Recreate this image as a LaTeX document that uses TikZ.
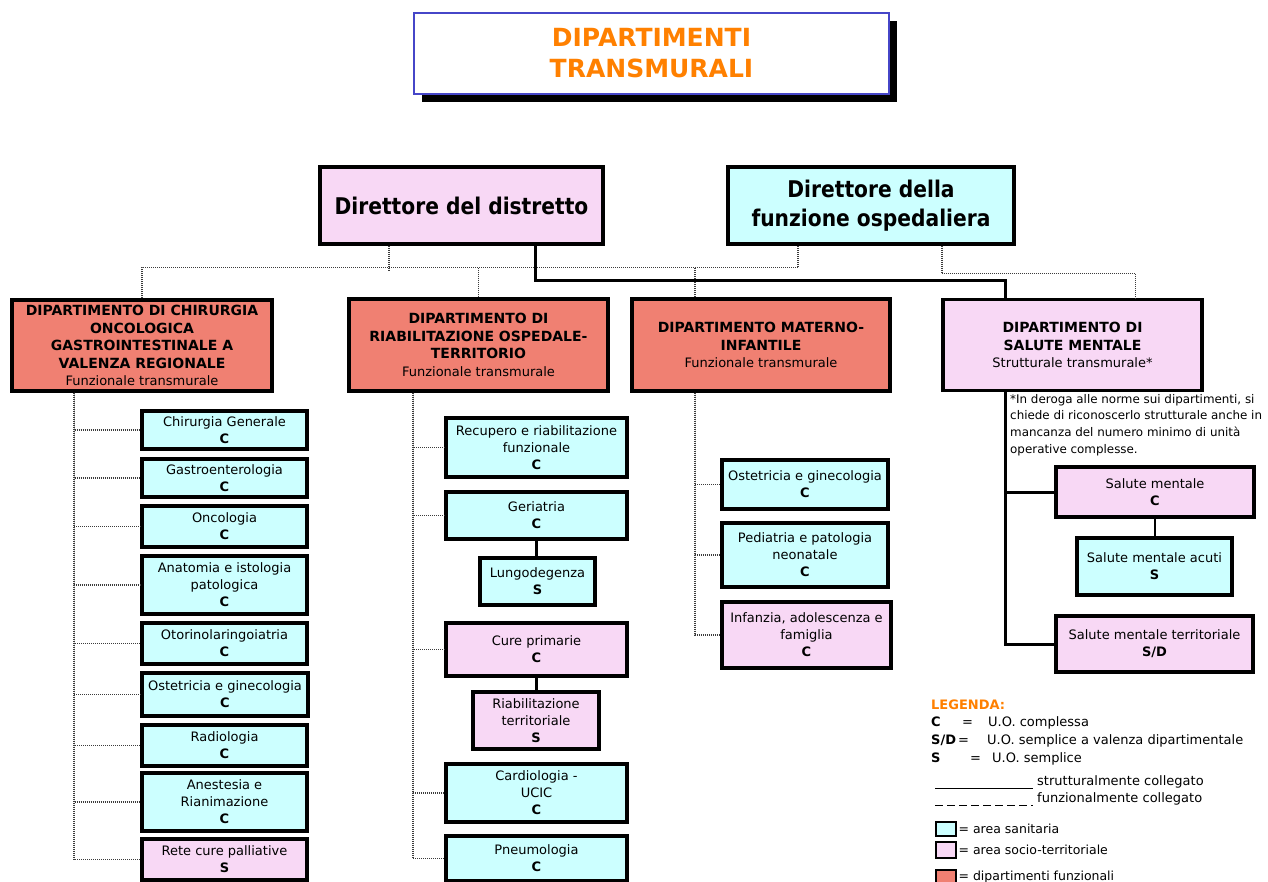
\documentclass[tikz,border=0pt]{standalone}
\usepackage{fontspec}
\setmainfont{DejaVu Sans}
\newfontfamily\dirfont[FakeStretch=0.88]{DejaVu Sans}
\usetikzlibrary{calc}
\definecolor{cyanf}{RGB}{204,255,255}
\definecolor{pinkf}{RGB}{248,216,245}
\definecolor{salm}{RGB}{240,128,114}
\definecolor{tblue}{RGB}{70,70,200}
\definecolor{orng}{RGB}{255,128,0}
\definecolor{dotc}{RGB}{60,60,60}
\newcommand\bt[1]{{\fontsize{14}{17.5}\selectfont\bfseries #1}}
\begin{document}
\begin{tikzpicture}[x=1pt,y=-1pt,
  ubox/.style={draw=black, line width=3.2pt, inner sep=1pt, align=center, font=\fontsize{13}{17}\selectfont},
  san/.style={ubox, fill=cyanf},
  soc/.style={ubox, fill=pinkf},
  dept/.style={draw=black, line width=3.2pt, fill=salm, inner sep=1pt, align=center, font=\fontsize{13}{17.5}\selectfont},
  deptsoc/.style={dept, fill=pinkf},
  dirbox/.style={draw=black, line width=3.2pt, inner sep=2pt, align=center, font=\dirfont\bfseries\fontsize{23}{29}\selectfont},
  dotln/.style={draw=dotc, line width=1.5pt, dash pattern=on 1pt off 1pt},
  strong/.style={draw=black, line width=3pt},
  link/.style={draw=black, line width=2.4pt},
  legtxt/.style={anchor=west, inner sep=0pt, font=\fontsize{13}{17}\selectfont},
  swatch/.style={draw=black, line width=2.8pt, minimum width=20pt, minimum height=14pt, inner sep=0pt}
]
\useasboundingbox (0,0) rectangle (1268,882);
\fill[white] (0,0) rectangle (1268,882);

% title
\fill[black] (422,21) rectangle (897,102);
\node[draw=tblue, line width=2.8pt, fill=white, minimum width=475pt, minimum height=81pt, align=center, text=orng, font=\fontsize{25}{31}\selectfont\bfseries] (title) at (651.5,53.5) {DIPARTIMENTI\\TRANSMURALI};

% directors
\node[dirbox, fill=pinkf, minimum width=283pt, minimum height=77pt] (dd) at (461.5,205.5) {Direttore del distretto};
\node[dirbox, fill=cyanf, minimum width=286pt, minimum height=77pt] (df) at (871,205.5) {Direttore della\\funzione ospedaliera};

% departments
\node[dept, minimum width=260pt, minimum height=91pt] (dchir) at (142,345.5) {\bt{DIPARTIMENTO DI CHIRURGIA}\\\bt{ONCOLOGICA}\\\bt{GASTROINTESTINALE A}\\\bt{VALENZA REGIONALE}\\Funzionale transmurale};
\node[dept, minimum width=259pt, minimum height=92pt] (driab) at (478.5,345) {\bt{DIPARTIMENTO DI}\\\bt{RIABILITAZIONE OSPEDALE-}\\\bt{TERRITORIO}\\Funzionale transmurale};
\node[dept, minimum width=258pt, minimum height=92pt] (dmat) at (761,345) {\bt{DIPARTIMENTO MATERNO-}\\\bt{INFANTILE}\\Funzionale transmurale};
\node[deptsoc, minimum width=259pt, minimum height=91pt] (dsm) at (1072.5,345) {\bt{DIPARTIMENTO DI}\\\bt{SALUTE MENTALE}\\Strutturale transmurale*};

% top connectors
\draw[dotln] (dchir.north) -- ++(0,-31) -| ($(df.south west)!0.248!(df.south east)$);
\draw[dotln] ($(dd.south west)!0.247!(dd.south east)$) -- ++(0,25);
\draw[dotln] (driab.north) -- ++(0,-30);
\draw[dotln] ($(dmat.north west)!0.248!(dmat.north east)$) -- ++(0,-30);
\draw[dotln] ($(df.south west)!0.745!(df.south east)$) -- ++(0,28) -| ($(dsm.north west)!0.741!(dsm.north east)$);
\draw[strong] ($(dd.south west)!0.76!(dd.south east)$) -- ++(0,35) -| ($(dsm.north west)!0.243!(dsm.north east)$);

% chirurgia column
\node[san, minimum width=165pt, minimum height=38pt] (cg) at (224.5,430) {Chirurgia Generale\\\textbf{C}};
\node[san, minimum width=165pt, minimum height=38pt] (gas) at (224.5,478) {Gastroenterologia\\\textbf{C}};
\node[san, minimum width=165pt, minimum height=41pt] (onc) at (224.5,526.5) {Oncologia\\\textbf{C}};
\node[san, minimum width=165pt, minimum height=58pt] (ana) at (224.5,585) {Anatomia e istologia\\patologica\\\textbf{C}};
\node[san, minimum width=165pt, minimum height=41pt] (oto) at (224.5,643.5) {Otorinolaringoiatria\\\textbf{C}};
\node[san, minimum width=166pt, minimum height=43pt] (ost) at (225,694.5) {Ostetricia e ginecologia\\\textbf{C}};
\node[san, minimum width=165pt, minimum height=41pt] (rad) at (224.5,745.5) {Radiologia\\\textbf{C}};
\node[san, minimum width=165pt, minimum height=58pt] (ane) at (224.5,802) {Anestesia e\\Rianimazione\\\textbf{C}};
\node[soc, minimum width=165pt, minimum height=41pt] (rcp) at (224.5,859.5) {Rete cure palliative\\\textbf{S}};
\coordinate (cbus) at ($(dchir.south west)!0.242!(dchir.south east)$);
\foreach \n in {cg,gas,onc,ana,oto,ost,rad,ane,rcp} \draw[dotln] (cbus) |- (\n.west);

% riabilitazione column
\node[san, minimum width=181pt, minimum height=59pt] (rec) at (536.5,447.5) {Recupero e riabilitazione\\funzionale\\\textbf{C}};
\node[san, minimum width=181pt, minimum height=47pt] (ger) at (536.5,515.5) {Geriatria\\\textbf{C}};
\node[san, minimum width=115pt, minimum height=47pt] (lun) at (537.5,581.5) {Lungodegenza\\\textbf{S}};
\node[soc, minimum width=181pt, minimum height=53pt] (cpr) at (536.5,649.5) {Cure primarie\\\textbf{C}};
\node[soc, minimum width=126pt, minimum height=57pt] (rte) at (536,720.5) {Riabilitazione\\territoriale\\\textbf{S}};
\node[san, minimum width=181pt, minimum height=58pt] (car) at (536.5,793) {Cardiologia -\\UCIC\\\textbf{C}};
\node[san, minimum width=181pt, minimum height=45pt] (pne) at (536.5,858.5) {Pneumologia\\\textbf{C}};
\coordinate (rbus) at ($(driab.south west)!0.251!(driab.south east)$);
\foreach \n in {rec,ger,cpr,car,pne} \draw[dotln] (rbus) |- (\n.west);
\draw[link] (ger.south) -- (ger.south |- lun.north);
\draw[link] (cpr.south) -- (cpr.south |- rte.north);

% materno-infantile column
\node[san, minimum width=166pt, minimum height=49pt] (ost2) at (805,484.5) {Ostetricia e ginecologia\\\textbf{C}};
\node[san, minimum width=166pt, minimum height=64pt] (ped) at (805,555) {Pediatria e patologia\\neonatale\\\textbf{C}};
\node[soc, minimum width=169pt, minimum height=66pt] (inf) at (806.5,635) {Infanzia, adolescenza e\\famiglia\\\textbf{C}};
\coordinate (mbus) at ($(dmat.south west)!0.248!(dmat.south east)$);
\foreach \n in {ost2,ped,inf} \draw[dotln] (mbus) |- (\n.west);

% salute mentale column
\node[anchor=north west, inner sep=0pt, align=left, font=\fontsize{11.9}{16.7}\selectfont] (note) at (1010,394) {*In deroga alle norme sui dipartimenti, si\\chiede di riconoscerlo strutturale anche in\\mancanza del numero minimo di unità\\operative complesse.};
\node[soc, minimum width=198pt, minimum height=50pt] (smc) at (1155,492) {Salute mentale\\\textbf{C}};
\node[san, minimum width=155pt, minimum height=57pt] (sma) at (1154.5,566.5) {Salute mentale acuti\\\textbf{S}};
\node[soc, minimum width=197pt, minimum height=56pt] (smt) at (1154.5,644) {Salute mentale territoriale\\\textbf{S/D}};
\coordinate (sbus) at ($(dsm.south west)!0.243!(dsm.south east)$);
\draw[strong] (sbus) |- (smc.west);
\draw[strong] (sbus) |- (smt.west);
\draw[link, line width=2pt] (smc.south) -- (smc.south |- sma.north);

% legend
\node[legtxt, text=orng, font=\fontsize{13}{17}\selectfont\bfseries] (leg) at (931,705) {LEGENDA:};
\node[legtxt] (l1) at (931,723) {\makebox[31pt][l]{\textbf{C}}\makebox[26pt][l]{=}U.O. complessa};
\node[legtxt] (l2) at (931,741) {\makebox[27pt][l]{\textbf{S/D}}\makebox[29pt][l]{=}U.O. semplice a valenza dipartimentale};
\node[legtxt] (l3) at (931,759) {\makebox[39pt][l]{\textbf{S}}\makebox[22pt][l]{=}U.O. semplice};
\coordinate (s1a) at (935,788);
\coordinate (s1b) at (1033,788);
\draw[line width=0.9pt] (s1a) -- (s1b);
\node[legtxt] (l4) at (1037,782) {strutturalmente collegato};
\coordinate (s2a) at (935,805);
\coordinate (s2b) at (1033,805);
\draw[line width=0.9pt, dash pattern=on 8pt off 4pt] (s2a) -- (s2b);
\node[legtxt] (l5) at (1037,799) {funzionalmente collegato};
\node[swatch, fill=cyanf] (sw1) at (946,829) {};
\node[legtxt, font=\fontsize{12.5}{16}\selectfont] (t1) at ([xshift=1pt]sw1.east) {= area sanitaria};
\node[swatch, fill=pinkf, minimum height=16pt] (sw2) at (946,850) {};
\node[legtxt, font=\fontsize{12.5}{16}\selectfont] (t2) at ([xshift=1pt]sw2.east) {= area socio-territoriale};
\node[swatch, fill=salm] (sw3) at (946,877) {};
\node[legtxt, font=\fontsize{12.5}{16}\selectfont] (t3) at ([xshift=1pt]sw3.east) {= dipartimenti funzionali};
\end{tikzpicture}
\end{document}
